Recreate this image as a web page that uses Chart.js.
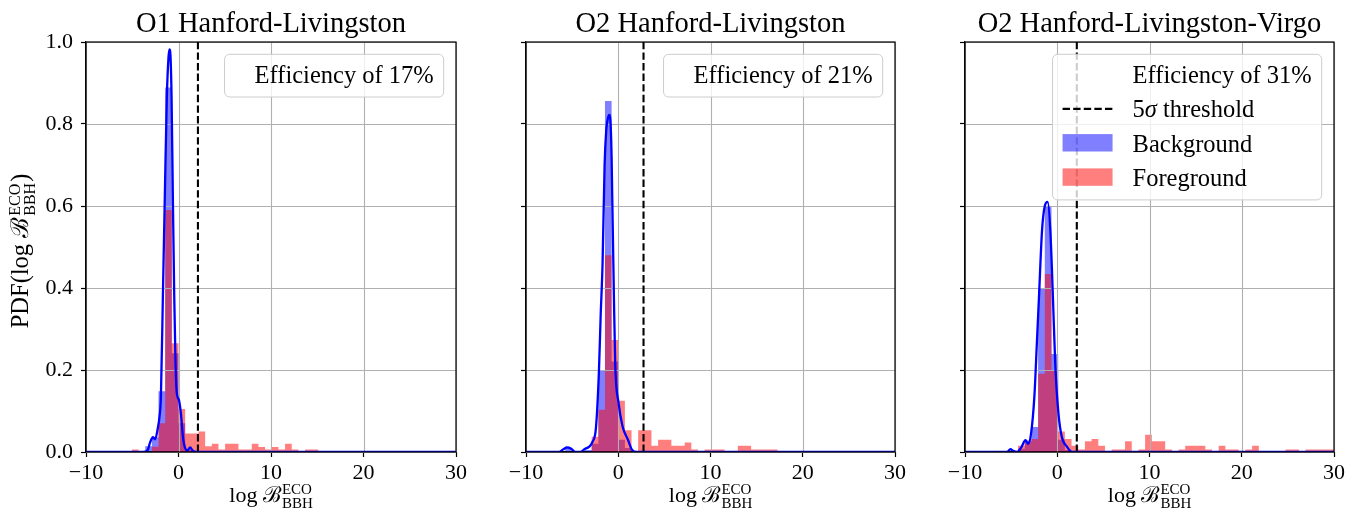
<!DOCTYPE html>
<html><head><meta charset="utf-8">
<script src="https://cdn.jsdelivr.net/npm/chart.js@4.4.1/dist/chart.umd.min.js"></script>
<style>
html,body{margin:0;padding:0;background:#fff;width:1361px;height:512px;overflow:hidden}
canvas{position:absolute;top:0}
</style></head><body>
<canvas id="c1" width="470" height="512" style="left:0px"></canvas>
<canvas id="c2" width="440" height="512" style="left:470px"></canvas>
<canvas id="c3" width="451" height="512" style="left:910px"></canvas>
<script>
// ---------------- data ----------------
const titles = ['O1 Hanford-Livingston', 'O2 Hanford-Livingston', 'O2 Hanford-Livingston-Virgo'];
const efficiencies = [17, 21, 31];
const thresholds = [2.1, 2.74, 2.12];
const xTicks = [-10, 0, 10, 20, 30];
const yTicks = [0.0, 0.2, 0.4, 0.6, 0.8, 1.0];

const o1Edges = [-5.04,-4.32,-3.6,-2.88,-2.16,-1.44,-0.72,0,0.72,1.44,2.16,2.88,3.6,4.32,5.04,5.76,6.48,7.2,7.92,8.64,9.36,10.08,10.8,11.52,12.24,12.96,13.68,14.4,15.12];
const o1Background = [0,0,0.014,0.036,0.148,0.889,0.241,0.07,0.005,0,0,0,0,0,0,0,0,0,0,0,0,0,0,0,0,0,0,0];
const o1Foreground = [0.006,0,0,0.013,0.07,0.59,0.265,0.105,0.045,0.045,0.05,0.014,0.02,0.006,0.02,0.02,0.006,0.006,0.02,0.012,0.006,0.012,0.006,0.02,0.006,0,0.006,0.006];
const o1KdeX = [-10,-3.8,-3.35,-3.06,-2.77,-2.52,-2.27,-2.05,-1.9,-1.69,-1.48,-1.26,-1.08,-0.97,-0.86,-0.75,-0.61,-0.46,-0.32,-0.18,0.04,0.26,0.48,0.73,0.98,1.26,1.55,1.91,30];
const o1KdeY = [0,0,0.004,0.024,0.036,0.031,0.054,0.087,0.136,0.378,0.622,0.866,0.963,0.982,0.963,0.866,0.622,0.378,0.216,0.143,0.127,0.094,0.037,0.009,0.004,0.011,0.003,0,0];

const o2Edges = [-5.76,-5.04,-4.32,-3.6,-2.88,-2.16,-1.44,-0.72,0,0.72,1.44,2.16,2.88,3.6,4.32,5.04,5.76,6.48,7.2,7.92,8.64,9.36,10.08,10.8,11.52,12.24,12.96,13.68,14.4,15.12,15.84,16.56,17.28];
const o2Background = [0.008,0,0,0.005,0.02,0.199,0.856,0.221,0.03,0.01,0,0,0,0,0,0,0,0,0,0,0,0,0,0,0,0,0,0,0,0,0,0];
const o2Foreground = [0,0,0,0,0.037,0.103,0.48,0.273,0.125,0.053,0,0.053,0.053,0.015,0.03,0.03,0.015,0.015,0.023,0.006,0,0.006,0.006,0.006,0,0,0.015,0.015,0.006,0.006,0.006,0.006];
const o2KdeX = [-10,-6.47,-5.99,-5.56,-5.09,-4.66,-4.12,-3.58,-3.14,-2.79,-2.42,-2.09,-1.91,-1.7,-1.48,-1.3,-1.16,-0.975,-0.83,-0.72,-0.65,-0.47,-0.33,0.04,0.47,1.05,1.48,2.02,30];
const o2KdeY = [0,0,0.006,0.011,0.008,0,0,0.008,0.013,0.025,0.058,0.199,0.33,0.46,0.7,0.785,0.81,0.822,0.8,0.72,0.622,0.378,0.216,0.119,0.062,0.03,0.006,0,0];

const o3Edges = [-4.25,-3.525,-2.8,-2.075,-1.35,-0.625,0.1,0.825,1.55,2.275,3.0,3.725,4.45,5.175,5.9,6.625,7.35,8.075,8.8,9.525,10.25,10.975,11.7,12.425,13.15,13.875,14.6,15.325,16.05,16.775,17.5,18.225,18.95,19.675,20.4,21.125,21.85,22.575,23.3,24.025,24.75,25.475,26.2,26.925,27.65,28.375,29.1,29.825,30.55];
const o3Background = [0.008,0.028,0.061,0.4,0.598,0.239,0.03,0.005,0,0,0,0,0,0,0,0,0,0,0,0,0,0,0,0,0,0,0,0,0,0,0,0,0,0,0,0,0,0,0,0,0,0,0,0,0,0,0,0];
const o3Foreground = [0.015,0.025,0.032,0.191,0.434,0.199,0.05,0.032,0.015,0.006,0.026,0.032,0.015,0,0.006,0.006,0.026,0,0.006,0.042,0.026,0.026,0.006,0,0.006,0.015,0.015,0.015,0.006,0,0.015,0.006,0.006,0,0.006,0.015,0,0,0,0,0.006,0.006,0,0.006,0.006,0.006,0.006,0.006];
const o3KdeX = [-10,-5.43,-5.07,-4.78,-4.35,-3.88,-3.45,-3.16,-2.84,-2.48,-2.2,-1.98,-1.65,-1.35,-1.04,-0.75,-0.47,-0.22,0.13,0.49,1.05,1.58,30];
const o3KdeY = [0,0,0.007,0.003,0,0.012,0.029,0.02,0.045,0.135,0.27,0.378,0.54,0.6,0.61,0.54,0.378,0.216,0.094,0.037,0.013,0,0];

// ---------------- drawing ----------------
const FONT = "'Liberation Serif','DejaVu Serif',serif";
const TICK_SIZE = 22, TITLE_SIZE = 28.5, LEG_SIZE = 24.5, LABEL_SIZE = 22, SCRIPT_SIZE = 15;
const YLABEL_SIZE = 24.5, YSCRIPT_SIZE = 16;

function fmtX(v) { return v < 0 ? '\u2212' + Math.abs(v) : String(v); }

function histPoints(edges, vals) {
  // stepped 'before' in Chart.js: segment from a point to the next keeps the first point's value
  const pts = [];
  for (let i = 0; i < vals.length; i++) pts.push({x: edges[i], y: vals[i]});
  pts.push({x: edges[edges.length - 1], y: 0});
  return pts;
}
function zipPoints(xs, ys) { return xs.map((x, i) => ({x: x, y: ys[i]})); }

function mathWidth(ctx, segs) {
  let w = 0;
  for (const s of segs) {
    ctx.font = (s.italic ? 'italic ' : '') + s.size + 'px ' + FONT;
    w += (s.pre || 0);
    if (s.t !== undefined) w += ctx.measureText(s.t).width;
    else w += Math.max(ctx.measureText(s.sup).width, ctx.measureText(s.sub).width);
  }
  return w;
}
function drawMath(ctx, segs, x, y) {
  let cx = x;
  ctx.textAlign = 'left'; ctx.textBaseline = 'alphabetic'; ctx.fillStyle = '#000';
  for (const s of segs) {
    ctx.font = (s.italic ? 'italic ' : '') + s.size + 'px ' + FONT;
    cx += (s.pre || 0);
    if (s.t !== undefined) { ctx.fillText(s.t, cx, y); cx += ctx.measureText(s.t).width; }
    else {
      ctx.fillText(s.sup, cx, y - s.up);
      ctx.fillText(s.sub, cx, y + s.down);
      cx += Math.max(ctx.measureText(s.sup).width, ctx.measureText(s.sub).width);
    }
  }
}
const xLabelSegs = [{t: 'log ', size: LABEL_SIZE}, {t: '\u212C', size: LABEL_SIZE},
  {sup: 'ECO', sub: 'BBH', size: SCRIPT_SIZE, up: 7.5, down: 6, pre: 1}];
const yLabelSegs = [{t: 'PDF(log ', size: YLABEL_SIZE}, {t: '\u212C', size: YLABEL_SIZE},
  {sup: 'ECO', sub: 'BBH', size: YSCRIPT_SIZE, up: 8.5, down: 6.5, pre: 1}, {t: ')', size: YLABEL_SIZE, pre: 1}];

function roundRect(ctx, x, y, w, h, r) {
  ctx.beginPath();
  ctx.moveTo(x + r, y);
  ctx.lineTo(x + w - r, y); ctx.arcTo(x + w, y, x + w, y + r, r);
  ctx.lineTo(x + w, y + h - r); ctx.arcTo(x + w, y + h, x + w - r, y + h, r);
  ctx.lineTo(x + r, y + h); ctx.arcTo(x, y + h, x, y + h - r, r);
  ctx.lineTo(x, y + r); ctx.arcTo(x, y, x + r, y, r);
  ctx.closePath();
}

const panelPlugin = {
  id: 'panelDeco',
  afterDatasetDraw(chart, args, opts) {
    if (chart.data.datasets[args.index].label !== 'Foreground') return;
    const ctx = chart.ctx, ca = chart.chartArea, xs = chart.scales.x, ys = chart.scales.y;
    ctx.save();
    ctx.strokeStyle = '#b0b0b0'; ctx.lineWidth = 1.1;
    ctx.beginPath();
    for (const v of xTicks) { const px = Math.round(xs.getPixelForValue(v)) + 0.5; ctx.moveTo(px, ca.top); ctx.lineTo(px, ca.bottom); }
    for (const v of yTicks) { const py = Math.round(ys.getPixelForValue(v)) + 0.5; ctx.moveTo(ca.left, py); ctx.lineTo(ca.right, py); }
    ctx.stroke();
    ctx.restore();
  },
  afterDraw(chart, args, opts) {
    const ctx = chart.ctx, ca = chart.chartArea;
    ctx.save();
    // spines
    ctx.strokeStyle = '#000'; ctx.lineWidth = 1.2;
    ctx.strokeRect(ca.left, ca.top, ca.right - ca.left, ca.bottom - ca.top);
    // title
    ctx.fillStyle = '#000';
    ctx.font = TITLE_SIZE + 'px ' + FONT; ctx.textAlign = 'center'; ctx.textBaseline = 'alphabetic';
    const cx = (ca.left + ca.right) / 2;
    ctx.fillText(opts.title, cx, 32);
    // x label
    const xw = mathWidth(ctx, xLabelSegs);
    drawMath(ctx, xLabelSegs, cx - xw / 2, 501.5);
    // y label
    if (opts.yLabel) {
      const yw = mathWidth(ctx, yLabelSegs);
      ctx.save();
      ctx.translate(28, (ca.top + ca.bottom) / 2 + 4);
      ctx.rotate(-Math.PI / 2);
      drawMath(ctx, yLabelSegs, -yw / 2, 0);
      ctx.restore();
    }
    // legend
    const rows = opts.rows;
    let tw = 0;
    for (const r of rows) tw = Math.max(tw, mathWidth(ctx, r.segs));
    const pad = opts.leftPad;
    const bw = pad + tw + 10;
    const right = ca.right - 12.3, top = ca.top + 12.3;
    const rowH = 34.3;
    const bh = 28.6 + (rows.length - 1) * rowH + 14.1;
    const left = right - bw;
    roundRect(ctx, left, top, bw, bh, 5);
    ctx.fillStyle = 'rgba(255,255,255,0.8)'; ctx.fill();
    ctx.strokeStyle = '#cccccc'; ctx.lineWidth = 1; ctx.stroke();
    rows.forEach((r, i) => {
      const base = top + 28.6 + i * rowH;
      if (r.kind === 'dash') {
        ctx.save(); ctx.strokeStyle = '#000'; ctx.lineWidth = 2.2; ctx.setLineDash([7.4, 3.2]);
        ctx.beginPath(); ctx.moveTo(left + 10, base - 8.4); ctx.lineTo(left + 60, base - 8.4); ctx.stroke(); ctx.restore();
      } else if (r.kind === 'patch') {
        ctx.fillStyle = r.color; ctx.fillRect(left + 10, base - 17.4, 50, 17.4);
      }
      drawMath(ctx, r.segs, left + pad, base);
    });
    ctx.restore();
  }
};

function makeChart(id, cfg) {
  const datasets = [
    {label: 'KDE', data: zipPoints(cfg.kx, cfg.ky), borderColor: '#0000ff', borderWidth: 2.3, pointRadius: 0, fill: false, cubicInterpolationMode: 'monotone', order: 0},
    {label: 'Threshold', data: [{x: cfg.thr, y: 0}, {x: cfg.thr, y: 1}], borderColor: '#000', borderWidth: 2.1, borderDash: [7.4, 3.2], pointRadius: 0, fill: false, order: 1},
    {label: 'Foreground', data: histPoints(cfg.edges, cfg.fg), stepped: 'before', borderWidth: 0, borderColor: 'rgba(0,0,0,0)', backgroundColor: 'rgba(255,0,0,0.5)', fill: 'origin', pointRadius: 0, order: 2},
    {label: 'Background', data: histPoints(cfg.edges, cfg.bg), stepped: 'before', borderWidth: 0, borderColor: 'rgba(0,0,0,0)', backgroundColor: 'rgba(0,0,255,0.5)', fill: 'origin', pointRadius: 0, order: 3}
  ];
  const effSegs = [{t: 'Efficiency of ' + cfg.eff + '%', size: LEG_SIZE}];
  const rows = cfg.full ? [
    {kind: 'none', segs: effSegs},
    {kind: 'dash', segs: [{t: '5', size: LEG_SIZE}, {t: '\u03C3', size: LEG_SIZE, italic: true}, {t: ' threshold', size: LEG_SIZE}]},
    {kind: 'patch', color: 'rgba(0,0,255,0.5)', segs: [{t: 'Background', size: LEG_SIZE}]},
    {kind: 'patch', color: 'rgba(255,0,0,0.5)', segs: [{t: 'Foreground', size: LEG_SIZE}]}
  ] : [{kind: 'none', segs: effSegs}];
  return new Chart(document.getElementById(id), {
    type: 'line',
    data: {datasets: datasets},
    plugins: [panelPlugin],
    options: {
      responsive: false, animation: false, events: [],
      layout: {padding: {top: 42, right: cfg.padR, left: 0, bottom: 0}},
      plugins: {legend: {display: false}, tooltip: {enabled: false}, title: {display: false},
        panelDeco: {title: cfg.title, yLabel: cfg.yLabel, rows: rows, leftPad: cfg.full ? 80 : 30}},
      scales: {
        x: {type: 'linear', min: -10, max: 30,
          afterBuildTicks: s => { s.ticks = xTicks.map(v => ({value: v})); },
          ticks: {font: {family: FONT, size: TICK_SIZE}, color: '#000', padding: 3, maxRotation: 0, autoSkip: false, callback: v => fmtX(v)},
          grid: {drawOnChartArea: false, tickLength: 5, tickColor: '#000', tickWidth: 1.2},
          border: {color: '#000', width: 1.2},
          afterFit: s => { s.height = 60; }},
        y: {type: 'linear', min: 0, max: 1,
          afterBuildTicks: s => { s.ticks = yTicks.map(v => ({value: v})); },
          ticks: {font: {family: FONT, size: TICK_SIZE}, color: '#000', padding: 8, autoSkip: false, callback: v => cfg.yLabel ? v.toFixed(1) : ''},
          grid: {drawOnChartArea: false, tickLength: 5, tickColor: '#000', tickWidth: 1.2},
          border: {color: '#000', width: 1.2},
          afterFit: s => { s.width = cfg.yW; }}
      }
    }
  });
}

makeChart('c1', {title: titles[0], eff: efficiencies[0], thr: thresholds[0], edges: o1Edges, bg: o1Background, fg: o1Foreground, kx: o1KdeX, ky: o1KdeY, yW: 86, padR: 14, yLabel: true, full: false});
makeChart('c2', {title: titles[1], eff: efficiencies[1], thr: thresholds[1], edges: o2Edges, bg: o2Background, fg: o2Foreground, kx: o2KdeX, ky: o2KdeY, yW: 56, padR: 15, yLabel: false, full: false});
makeChart('c3', {title: titles[2], eff: efficiencies[2], thr: thresholds[2], edges: o3Edges, bg: o3Background, fg: o3Foreground, kx: o3KdeX, ky: o3KdeY, yW: 55, padR: 27, yLabel: false, full: true});
</script>
</body></html>
